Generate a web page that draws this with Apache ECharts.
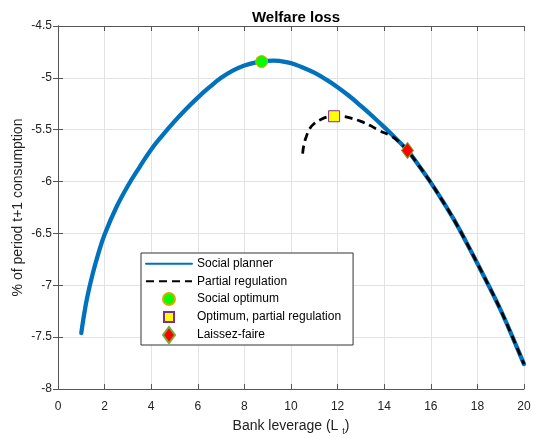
<!DOCTYPE html>
<html>
<head>
<meta charset="utf-8">
<script src="https://cdn.jsdelivr.net/npm/echarts@6/dist/echarts.min.js"></script>
<style>
html,body{margin:0;padding:0;background:#fff;}
#chart{width:533px;height:438px;}
</style>
</head>
<body>
<div id="chart"></div>
<script>
// Social planner curve
var spX = [1, 1.1, 1.25, 1.5, 1.75, 2, 2.5, 3, 3.5, 4, 4.5, 5, 5.5, 6, 6.5, 7, 7.5, 8, 8.5, 9, 9.25, 9.5, 10, 10.5, 11, 11.5, 12, 12.5, 13, 13.5, 14, 14.5, 15, 15.5, 16, 16.5, 17, 17.5, 18, 18.5, 19, 19.5, 20];
var spY = [-7.46, -7.31, -7.12, -6.88, -6.68, -6.51, -6.25, -6.04, -5.86, -5.69, -5.55, -5.42, -5.30, -5.19, -5.09, -5.00, -4.93, -4.88, -4.85, -4.836, -4.834, -4.837, -4.858, -4.90, -4.95, -5.015, -5.09, -5.175, -5.27, -5.37, -5.475, -5.585, -5.70, -5.85, -6.01, -6.185, -6.37, -6.575, -6.79, -7.01, -7.24, -7.495, -7.76];
// Partial regulation curve
var prX = [10.5, 10.55, 10.65, 10.8, 11.0, 11.3, 11.6, 11.85, 12.2, 12.6, 13.0, 13.4, 13.8, 14.2, 14.5, 14.75, 15, 15.5, 16, 16.5, 17, 17.5, 18, 18.5, 19, 19.5, 20];
var prY = [-5.73, -5.65, -5.57, -5.49, -5.44, -5.40, -5.375, -5.37, -5.372, -5.39, -5.42, -5.46, -5.51, -5.55, -5.59, -5.64, -5.70, -5.85, -6.01, -6.185, -6.37, -6.575, -6.79, -7.01, -7.24, -7.495, -7.76];
// Markers
var socialOpt = [8.74, -4.843];
var partialOpt = [11.85, -5.37];
var laissez = [15.0, -5.70];
// Axes
var xTicks = [0, 2, 4, 6, 8, 10, 12, 14, 16, 18, 20];
var yTicks = [-8, -7.5, -7, -6.5, -6, -5.5, -5, -4.5];
var legendNames = ['Social planner', 'Partial regulation', 'Social optimum', 'Optimum, partial regulation', 'Laissez-faire'];

function zip(a, b) { return a.map(function (v, i) { return [v, b[i]]; }); }

var font = 'Liberation Sans, Arial, Helvetica, sans-serif';
var axisCol = '#555';
var chart = echarts.init(document.getElementById('chart'), null, {renderer: 'canvas'});

var commonX = {type: 'value', min: xTicks[0], max: xTicks[xTicks.length - 1], interval: 2};
var commonY = {type: 'value', min: yTicks[0], max: yTicks[yTicks.length - 1], interval: 0.5};
var hiddenSym = {color: 'rgba(0,0,0,0)', borderWidth: 0, opacity: 0};

chart.setOption({
  animation: false,
  backgroundColor: '#fff',
  title: {
    text: 'Welfare loss', left: 291, top: 5, textAlign: 'center',
    textStyle: {fontFamily: font, fontSize: 15, fontWeight: 'bold', color: '#000'}
  },
  grid: {left: 58, right: 9, top: 26, bottom: 49, containLabel: false, outerBoundsMode: 'none'},
  legend: {
    orient: 'vertical', left: 141, top: 253,
    padding: [2, 12, 1, 4], itemWidth: 46, itemHeight: 16, itemGap: 0, itemTextGap: 2,
    symbolKeepAspect: true,
    backgroundColor: '#fff', borderColor: '#333', borderWidth: 1,
    textStyle: {fontFamily: font, fontSize: 12, color: '#000', lineHeight: 17.5},
    data: [
      {name: legendNames[0], itemStyle: hiddenSym},
      {name: legendNames[1], itemStyle: hiddenSym},
      {name: legendNames[2], icon: 'path://M2.5,8 A6,6 0 1,1 14.5,8 A6,6 0 1,1 2.5,8 Z M8.5,0 L8.5,0.01 M8.5,16 L8.5,15.99'},
      {name: legendNames[3], icon: 'path://M3.5,3 L13.5,3 L13.5,13 L3.5,13 Z M8.5,0 L8.5,0.01 M8.5,16 L8.5,15.99'},
      {name: legendNames[4], icon: 'path://M6,0 L12,8 L6,16 L0,8 Z'}
    ]
  },
  xAxis: [
    Object.assign({}, commonX, {
      position: 'bottom',
      name: '{a|Bank leverage (L }{s|t}{a|)}', nameLocation: 'middle', nameGap: 28,
      nameMoveOverlap: false,
      nameTextStyle: {
        rich: {
          a: {fontFamily: font, fontSize: 14, color: '#222'},
          s: {fontFamily: font, fontSize: 9, color: '#222', padding: [10, 0, 0, 0]}
        }
      },
      axisLine: {show: true, lineStyle: {color: axisCol, width: 1}},
      axisTick: {show: true, inside: true, length: 5, lineStyle: {color: axisCol}},
      axisLabel: {margin: 12, fontFamily: font, fontSize: 12, color: '#222'},
      splitLine: {show: true, lineStyle: {color: '#e3e3e3', width: 1}}
    }),
    Object.assign({}, commonX, {
      position: 'top',
      axisLine: {show: true, lineStyle: {color: axisCol, width: 1}},
      axisTick: {show: true, inside: true, length: 5, lineStyle: {color: axisCol}},
      axisLabel: {show: false}, splitLine: {show: false}
    })
  ],
  yAxis: [
    Object.assign({}, commonY, {
      position: 'left',
      name: '% of period t+1 consumption', nameLocation: 'middle', nameGap: 33,
      nameMoveOverlap: false,
      nameTextStyle: {fontFamily: font, fontSize: 14, color: '#222'},
      axisLine: {show: true, lineStyle: {color: axisCol, width: 1}},
      axisTick: {show: true, inside: true, length: 5, lineStyle: {color: axisCol}},
      axisLabel: {margin: 6, fontFamily: font, fontSize: 12, color: '#222', padding: [4, 0, 0, 0]},
      splitLine: {show: true, lineStyle: {color: '#e3e3e3', width: 1}}
    }),
    Object.assign({}, commonY, {
      position: 'right',
      axisLine: {show: true, lineStyle: {color: axisCol, width: 1}},
      axisTick: {show: true, inside: true, length: 5, lineStyle: {color: axisCol}},
      axisLabel: {show: false}, splitLine: {show: false}
    })
  ],
  series: [
    {
      name: legendNames[0], type: 'line', data: zip(spX, spY), smooth: 0.4,
      symbol: 'none', showSymbol: false, z: 2,
      lineStyle: {color: '#0072BD', width: 4.3, cap: 'round'},
      itemStyle: {color: '#0072BD'}
    },
    {
      name: legendNames[1], type: 'line', data: zip(prX, prY), smooth: 0.4,
      symbol: 'none', showSymbol: false, z: 3,
      lineStyle: {color: '#000', width: 2.8, type: [8, 5]},
      itemStyle: {color: '#000'}
    },
    {
      name: legendNames[2], type: 'scatter', data: [socialOpt], z: 10,
      symbol: 'circle', symbolSize: 12,
      itemStyle: {color: '#00ff00', borderColor: '#e0a800', borderWidth: 1, opacity: 1}
    },
    {
      name: legendNames[3], type: 'scatter', data: [partialOpt], z: 10,
      symbol: 'rect', symbolSize: 11,
      itemStyle: {color: '#ffff00', borderColor: '#7E2F8E', borderWidth: 1, opacity: 1}
    },
    {
      name: legendNames[4], type: 'scatter', data: [laissez], z: 10,
      symbol: 'diamond', symbolSize: [12, 16],
      itemStyle: {color: '#ff0000', borderColor: '#77AC30', borderWidth: 1, opacity: 1}
    }
  ]
});
</script>
</body>
</html>
